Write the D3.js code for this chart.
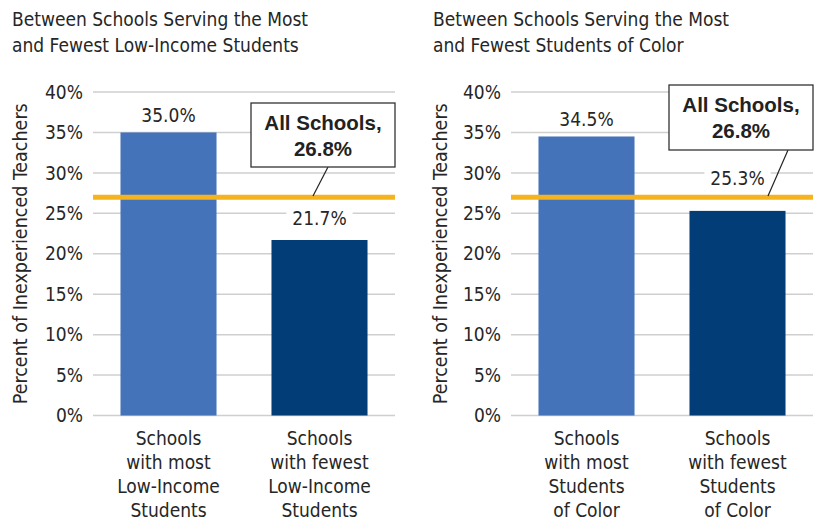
<!DOCTYPE html>
<html><head><meta charset="utf-8">
<script src="https://cdn.jsdelivr.net/npm/d3@7"></script>
<style>
html,body{margin:0;padding:0;background:#fff;}
svg{display:block;}
</style></head>
<body>
<svg id="chart" width="818" height="521"></svg>
<script>
// ---- data ----
const panelTitles = [
  ["Between Schools Serving the Most", "and Fewest Low-Income Students"],
  ["Between Schools Serving the Most", "and Fewest Students of Color"]
];
const categoriesLowIncome = [
  ["Schools", "with most", "Low-Income", "Students"],
  ["Schools", "with fewest", "Low-Income", "Students"]
];
const categoriesColor = [
  ["Schools", "with most", "Students", "of Color"],
  ["Schools", "with fewest", "Students", "of Color"]
];
const valuesLowIncome = [35.0, 21.7];
const valuesColor = [34.5, 25.3];
const allSchoolsValue = 26.8;
const yTicks = [0, 5, 10, 15, 20, 25, 30, 35, 40];
const yAxisTitle = "Percent of Inexperienced Teachers";
const calloutLines = ["All Schools,", "26.8%"];

// ---- style / layout ----
const barColors = ["#4573b9", "#023d77"];
const refColor = "#f5b31e";
const gridColor = "#cfcfcf";
const textColor = "#262626";
const condensed = "'Liberation Sans Narrow','DejaVu Sans Condensed','Arial Narrow',sans-serif";
const boldFont = "'Liberation Sans',Arial,sans-serif";

const panels = [
  { x0: 93, x1: 395, titleX: 12, axisTitleX: 20, tickX: 83,
    cats: categoriesLowIncome, vals: valuesLowIncome,
    labelGap: [17, 22],
    box: { x: 251, y: 103, w: 144, h: 64 }, leader: [[328, 167], [313, 196]] },
  { x0: 511, x1: 813, titleX: 433, axisTitleX: 440, tickX: 501,
    cats: categoriesColor, vals: valuesColor,
    labelGap: [17, 33],
    box: { x: 669, y: 85, w: 144, h: 65 }, leader: [[788, 150], [768, 196]] }
];

const svg = d3.select("#chart");
const y = d3.scaleLinear().domain([0, 40]).range([415.5, 92]);

panels.forEach((p, pi) => {
  const g = svg.append("g");
  const x = d3.scaleBand().domain(d3.range(p.vals.length))
    .range([p.x0, p.x1]).paddingInner(0.364).paddingOuter(0.182);

  // title
  g.append("text").attr("x", p.titleX).attr("y", 26)
    .attr("font-family", condensed).attr("font-size", 19).attr("fill", textColor)
    .selectAll("tspan").data(panelTitles[pi]).join("tspan")
    .attr("x", p.titleX).attr("dy", (d, i) => i ? 26 : 0).text(d => d);

  // gridlines
  g.selectAll("line.grid").data(yTicks).join("line").attr("class", "grid")
    .attr("x1", p.x0).attr("x2", p.x1)
    .attr("y1", d => y(d)).attr("y2", d => y(d))
    .attr("stroke", gridColor).attr("stroke-width", 1.5);

  // y tick labels
  g.selectAll("text.tick").data(yTicks).join("text").attr("class", "tick")
    .attr("x", p.tickX).attr("y", d => y(d)).attr("dy", "0.35em")
    .attr("text-anchor", "end").attr("font-family", condensed).attr("font-size", 19)
    .attr("fill", textColor).text(d => d + "%");

  // y axis title
  g.append("text")
    .attr("transform", `translate(${p.axisTitleX},${y(20)}) rotate(-90)`)
    .attr("dy", "0.35em").attr("text-anchor", "middle")
    .attr("font-family", condensed).attr("font-size", 19.5).attr("fill", textColor)
    .text(yAxisTitle);

  // bars
  g.selectAll("rect.bar").data(p.vals).join("rect").attr("class", "bar")
    .attr("x", (d, i) => x(i)).attr("width", x.bandwidth())
    .attr("y", d => y(d)).attr("height", d => y(0) - y(d))
    .attr("fill", (d, i) => barColors[i]);

  // value labels with white background
  p.vals.forEach((v, i) => {
    const cx = x(i) + x.bandwidth() / 2;
    const cy = y(v) - p.labelGap[i];
    const t = g.append("text").attr("x", cx).attr("y", cy).attr("dy", "0.35em")
      .attr("text-anchor", "middle").attr("font-family", condensed).attr("font-size", 19)
      .attr("fill", textColor).text(v.toFixed(1) + "%");
    const bb = t.node().getBBox();
    g.insert("rect", () => t.node()).attr("x", bb.x - 6).attr("y", bb.y)
      .attr("width", bb.width + 12).attr("height", bb.height).attr("fill", "#fff");
  });

  // reference line
  g.append("line").attr("x1", p.x0).attr("x2", p.x1)
    .attr("y1", y(allSchoolsValue) - 1.5).attr("y2", y(allSchoolsValue) - 1.5)
    .attr("stroke", refColor).attr("stroke-width", 5);

  // leader line
  g.append("line").attr("x1", p.leader[0][0]).attr("y1", p.leader[0][1])
    .attr("x2", p.leader[1][0]).attr("y2", p.leader[1][1])
    .attr("stroke", "#222").attr("stroke-width", 1.2);

  // callout box
  g.append("rect").attr("x", p.box.x).attr("y", p.box.y)
    .attr("width", p.box.w).attr("height", p.box.h)
    .attr("fill", "#fff").attr("stroke", "#333").attr("stroke-width", 1.3);
  g.append("text").attr("text-anchor", "middle")
    .attr("font-family", boldFont).attr("font-weight", "bold").attr("font-size", 20.5)
    .attr("fill", "#222")
    .selectAll("tspan").data(calloutLines).join("tspan")
    .attr("x", p.box.x + p.box.w / 2)
    .attr("y", (d, i) => p.box.y + 26.5 + i * 26).text(d => d);

  // category labels
  p.cats.forEach((lines, i) => {
    const cx = x(i) + x.bandwidth() / 2;
    g.append("text").attr("text-anchor", "middle")
      .attr("font-family", condensed).attr("font-size", 19).attr("fill", textColor)
      .selectAll("tspan").data(lines).join("tspan")
      .attr("x", cx).attr("y", (d, k) => 445 + k * 24).text(d => d);
  });
});
</script>
</body></html>
